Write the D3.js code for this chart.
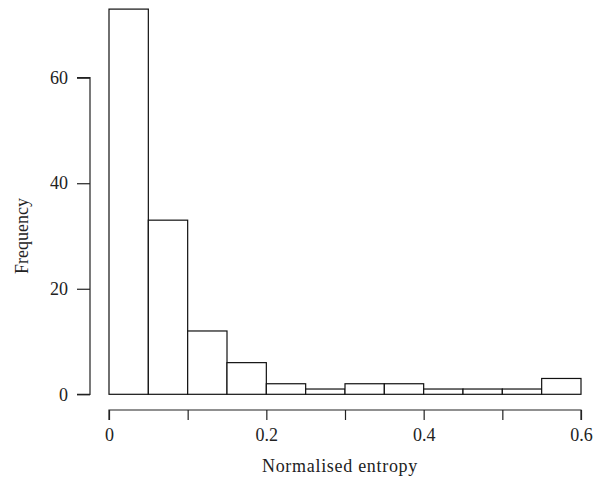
<!DOCTYPE html>
<html>
<head>
<meta charset="utf-8">
<script src="https://cdn.jsdelivr.net/npm/d3@7"></script>
<style>
  body { margin: 0; background: #fff; }
  svg { display: block; }
  text { font-family: "Liberation Serif", "DejaVu Serif", serif; fill: #222; }
</style>
</head>
<body>
<script>
// Histogram of normalised entropy, bin width 0.05
const binEdges = [0, 0.05, 0.1, 0.15, 0.2, 0.25, 0.3, 0.35, 0.4, 0.45, 0.5, 0.55, 0.6];
const counts = [73, 33, 12, 6, 2, 1, 2, 2, 1, 1, 1, 3];
const xTicks = [0, 0.1, 0.2, 0.3, 0.4, 0.5, 0.6];
const xTickLabels = ["0", "", "0.2", "", "0.4", "", "0.6"];
const yTicks = [0, 20, 40, 60];

const W = 608, H = 489;
const svg = d3.select("body").append("svg").attr("width", W).attr("height", H);

const x = d3.scaleLinear().domain([0, 0.6]).range([109, 581]);
const y = d3.scaleLinear().domain([0, 60]).range([394.3, 77.7]);

const bins = counts.map((c, i) => ({ x0: binEdges[i], x1: binEdges[i + 1], n: c }));

svg.append("g").selectAll("rect").data(bins).join("rect")
  .attr("x", d => x(d.x0))
  .attr("y", d => y(d.n))
  .attr("width", d => x(d.x1) - x(d.x0))
  .attr("height", d => y(0) - y(d.n))
  .attr("fill", "#fff")
  .attr("stroke", "#111")
  .attr("stroke-width", 1.2);

// x axis
const xAxis = d3.axisBottom(x).tickValues(xTicks)
  .tickFormat((d, i) => xTickLabels[i]).tickSize(10).tickPadding(8);
const gx = svg.append("g").attr("transform", "translate(0,410)").call(xAxis);
gx.select(".domain").attr("d", `M${x(0)},10V0H${x(0.6)}V10`);

// y axis
const yAxis = d3.axisLeft(y).tickValues(yTicks).tickSize(13).tickPadding(9);
const gy = svg.append("g").attr("transform", "translate(90,0)").call(yAxis);
gy.select(".domain").attr("d", `M-13,${y(0)}H0V${y(60)}H-13`);

[gx, gy].forEach(g => {
  g.selectAll(".domain, .tick line").attr("stroke", "#222").attr("stroke-width", 1.2);
  g.selectAll(".tick text").attr("font-size", 18).attr("fill", "#222")
    .style("font-family", "'Liberation Serif', serif");
});

svg.append("text")
  .attr("x", 340).attr("y", 472)
  .attr("text-anchor", "middle").attr("font-size", 18)
  .attr("letter-spacing", 0.7)
  .text("Normalised entropy");

svg.append("text")
  .attr("transform", `translate(28,${(y(0) + y(60)) / 2}) rotate(-90)`)
  .attr("text-anchor", "middle").attr("font-size", 18)
  .text("Frequency");
</script>
</body>
</html>
